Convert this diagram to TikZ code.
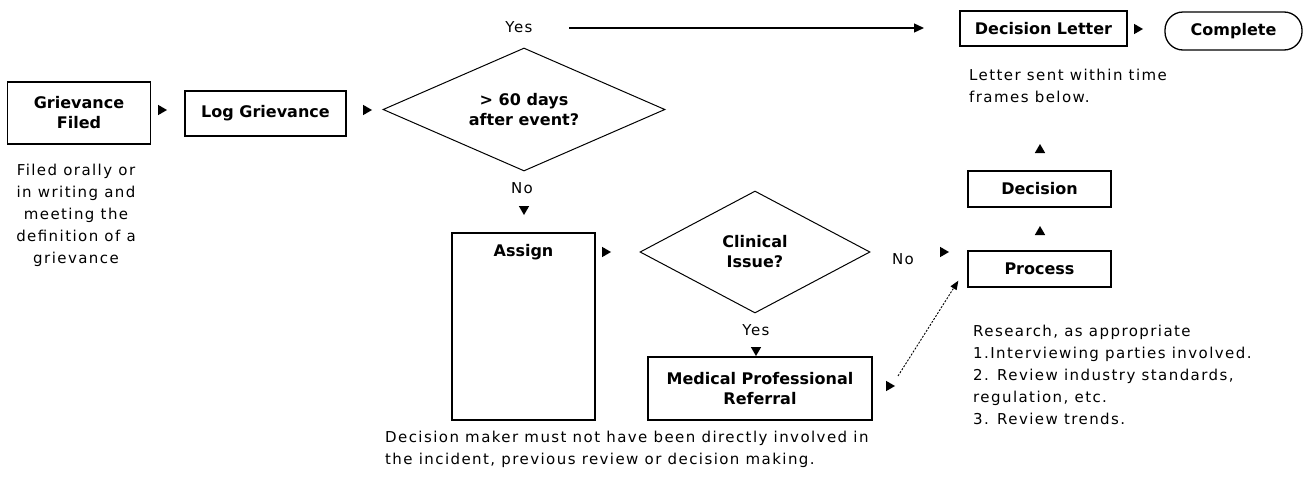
\documentclass[tikz,border=0pt]{standalone}
\usepackage{fontspec}
\setmainfont{DejaVu Sans}
\newfontfamily\bodyfont[LetterSpace=9.5]{DejaVu Sans}
\usetikzlibrary{shapes.geometric,arrows.meta}
\tikzset{
  box/.style={draw, line width=1.3pt, font=\fontsize{16}{20}\bfseries\selectfont, align=center, inner sep=0pt},
  dia/.style={diamond, draw, line width=1pt, inner sep=0pt, font=\fontsize{16}{20}\bfseries\selectfont, align=center},
  tri/.style={regular polygon, regular polygon sides=3, fill=black, inner sep=0pt, minimum size=12pt},
  body/.style={font=\bodyfont\fontsize{15}{22}\selectfont, inner sep=0pt},
  bold/.style={font=\fontsize{16}{20}\bfseries\selectfont, inner sep=0pt},
  conn/.style={line width=1.3pt, -{Triangle[length=10pt,width=9pt]}},
  dotconn/.style={line width=0.9pt, dash pattern=on 2pt off 1.5pt, -{Triangle[length=9pt,width=7pt]}}
}
\begin{document}
\begin{tikzpicture}[x=1pt,y=-1pt]
\useasboundingbox (0,0) rectangle (1307,490);
% boxes
\node[box, minimum width=143pt, minimum height=62pt] (gf) at (79,113) {Grievance\\Filed};
\node[box, minimum width=161pt, minimum height=45pt] (lg) at (265.5,113.5) {Log Grievance};
\node[dia, aspect=2.29, minimum width=282pt, minimum height=123pt] (d1) at (524,109.5) {> 60 days\\after event?};
\node[box, minimum width=167pt, minimum height=35pt] (dl) at (1043.5,28.5) {Decision Letter};
\node[box, rounded corners=18pt, minimum width=137pt, minimum height=38pt] (comp) at (1233.5,31) {Complete};
\node[box, minimum width=143pt, minimum height=187pt] (assign) at (523.5,326.5) {};
\node[bold] (assignlbl) at (523.5,252) {Assign};
\node[dia, aspect=1.885, minimum width=230pt, minimum height=122pt] (d2) at (755,252) {Clinical\\Issue?};
\node[box, minimum width=224pt, minimum height=63pt] (mpr) at (760,388.5) {Medical Professional\\Referral};
\node[box, minimum width=143pt, minimum height=36pt] (proc) at (1039.5,269) {Process};
\node[box, minimum width=143pt, minimum height=36pt] (dec) at (1039.5,189) {Decision};
% labels
\node[body] (yes1) at (519,27) {Yes};
\node[body] (no1) at (522,188) {No};
\node[body] (no2) at (903,259) {No};
\node[body] (yes2) at (756,330) {Yes};
\node[body, align=center] (gfnote) at (76,215) {Filed orally or\\in writing and\\meeting the\\definition of a\\grievance};
\node[body, align=left, anchor=west] (dlnote) at (969,85.5) {Letter sent within time\\frames below.};
\node[body, align=left, anchor=west] (procnote) at (973,374.5) {Research, as appropriate\\1.Interviewing parties involved.\\2. Review industry standards,\\regulation, etc.\\3. Review trends.};
\node[body, align=left, anchor=west] (asnote) at (385,449) {Decision maker must not have been directly involved in\\the incident, previous review or decision making.};
% arrowhead markers
\node[tri, shape border rotate=-90] (t1) at (161,110) {};
\node[tri, shape border rotate=-90] (t2) at (366,110) {};
\node[tri, shape border rotate=-90] (t3) at (1137,29) {};
\node[tri, shape border rotate=-90] (t4) at (605,252) {};
\node[tri, shape border rotate=-90] (t5) at (943,252) {};
\node[tri, shape border rotate=-90] (t6) at (889,386) {};
\node[tri, shape border rotate=180] (t7) at (524,209) {};
\node[tri, shape border rotate=180] (t8) at (756,350) {};
\node[tri] (t9) at (1040,232) {};
\node[tri] (t10) at (1040,150) {};
% connectors
\coordinate (ys) at (569,28);
\coordinate (ye) at (924,28);
\draw[conn] (ys) -- (ye);
\coordinate (ds) at (898,376);
\draw[dotconn] (ds) -- ([shift={(-9,-7)}]proc.south west);
\end{tikzpicture}
\end{document}
